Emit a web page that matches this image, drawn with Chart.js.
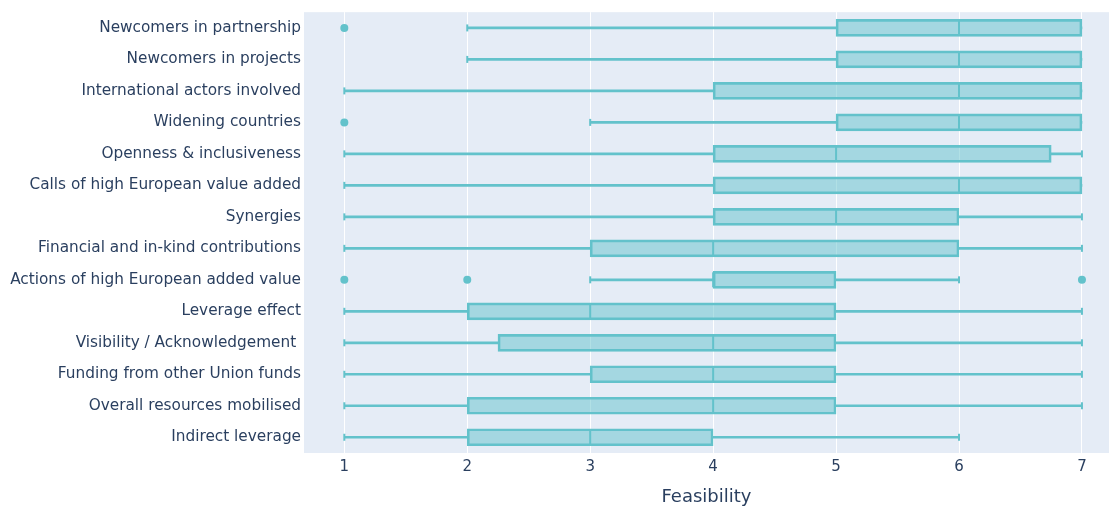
<!DOCTYPE html>
<html>
<head>
<meta charset="utf-8">
<script src="https://cdn.jsdelivr.net/npm/chart.js@4"></script>
<style>
  html, body { margin: 0; padding: 0; background: #fff; }
  #wrap { width: 1109px; height: 508px; }
</style>
</head>
<body>
<div id="wrap"><canvas id="boxChart"></canvas></div>
<script>
// categories, top to bottom
var categories = [
  'Newcomers in partnership',
  'Newcomers in projects',
  'International actors involved',
  'Widening countries',
  'Openness & inclusiveness',
  'Calls of high European value added',
  'Synergies',
  'Financial and in-kind contributions',
  'Actions of high European added value',
  'Leverage effect',
  'Visibility / Acknowledgement ',
  'Funding from other Union funds',
  'Overall resources mobilised',
  'Indirect leverage'
];

// box plot statistics
var lowerFence = [2, 2, 1, 3, 1, 1, 1, 1, 3, 1, 1, 1, 1, 1];
var q1         = [5, 5, 4, 5, 4, 4, 4, 3, 4, 2, 2.25, 3, 2, 2];
var median     = [6, 6, 6, 6, 5, 6, 5, 4, 4, 3, 4, 4, 4, 3];
var q3         = [7, 7, 7, 7, 6.75, 7, 6, 6, 5, 5, 5, 5, 5, 4];
var upperFence = [7, 7, 7, 7, 7, 7, 7, 7, 6, 7, 7, 7, 7, 6];
var outliers   = [[1], [], [], [1], [], [], [], [], [1, 2, 7], [], [], [], [], []];

var xTicks = [1, 2, 3, 4, 5, 6, 7];

var teal = 'rgb(99,194,203)';
var tealFill = 'rgba(99,194,203,0.5)';
var textColor = '#2a3f5f';

var outlierPoints = [];
outliers.forEach(function(list, i) {
  list.forEach(function(v) { outlierPoints.push({ x: v, y: categories[i] }); });
});

// plot background
var bgPlugin = {
  id: 'plotBg',
  beforeDraw: function(chart) {
    var a = chart.chartArea, ctx = chart.ctx;
    ctx.save();
    ctx.fillStyle = '#e5ecf6';
    ctx.fillRect(a.left, a.top, a.right - a.left, a.bottom - a.top);
    ctx.restore();
  }
};

// medians and whisker caps
var boxLines = {
  id: 'boxLines',
  afterDatasetsDraw: function(chart) {
    var xs = chart.scales.x, ys = chart.scales.y, ctx = chart.ctx;
    ctx.save();
    ctx.strokeStyle = teal;
    ctx.lineWidth = 2;
    categories.forEach(function(c, i) {
      var y = ys.getPixelForValue(i);
      var m = xs.getPixelForValue(median[i]);
      ctx.beginPath();
      ctx.moveTo(m, y - 7.5);
      ctx.lineTo(m, y + 7.5);
      ctx.stroke();
      [lowerFence[i], upperFence[i]].forEach(function(v, k) {
        if ((k === 0 && v === q1[i]) || (k === 1 && v === q3[i])) return;
        var p = xs.getPixelForValue(v);
        ctx.beginPath();
        ctx.moveTo(p, y - 3.5);
        ctx.lineTo(p, y + 3.5);
        ctx.stroke();
      });
    });
    ctx.restore();
  }
};

var ctx = document.getElementById('boxChart').getContext('2d');
var chart = new Chart(ctx, {
  type: 'bar',
  data: {
    labels: categories,
    datasets: [
      {
        type: 'bar',
        data: categories.map(function(c, i) { return [lowerFence[i], q1[i]]; }),
        backgroundColor: teal,
        borderWidth: 0,
        barThickness: 2,
        grouped: false,
        order: 3
      },
      {
        type: 'bar',
        data: categories.map(function(c, i) { return [q3[i], upperFence[i]]; }),
        backgroundColor: teal,
        borderWidth: 0,
        barThickness: 2,
        grouped: false,
        order: 3
      },
      {
        type: 'bar',
        data: categories.map(function(c, i) { return [q1[i], q3[i]]; }),
        backgroundColor: tealFill,
        borderColor: teal,
        borderWidth: 2,
        borderSkipped: false,
        barThickness: 17,
        grouped: false,
        order: 2
      },
      {
        type: 'scatter',
        data: outlierPoints,
        backgroundColor: teal,
        borderWidth: 0,
        pointRadius: 4,
        showLine: false,
        clip: false,
        order: 1
      }
    ]
  },
  options: {
    indexAxis: 'y',
    responsive: true,
    maintainAspectRatio: false,
    animation: false,
    events: [],
    layout: { autoPadding: false, padding: { top: 11, right: 0, left: 0, bottom: 0 } },
    plugins: {
      legend: { display: false },
      tooltip: { enabled: false }
    },
    scales: {
      x: {
        type: 'linear',
        min: 0.672,
        max: 7.22,
        afterBuildTicks: function(scale) {
          scale.ticks = xTicks.map(function(v) { return { value: v }; });
        },
        afterFit: function(scale) {
          scale.height = 55;
          scale.paddingRight = 0;
          scale.paddingLeft = 0;
        },
        grid: { color: '#ffffff', lineWidth: 1, drawTicks: false },
        border: { display: false },
        ticks: {
          padding: 5,
          color: textColor,
          font: { family: 'DejaVu Sans', size: 15 }
        },
        title: {
          display: true,
          text: 'Feasibility',
          color: textColor,
          padding: { top: 4, bottom: 0 },
          font: { family: 'DejaVu Sans', size: 18 }
        }
      },
      y: {
        type: 'category',
        afterFit: function(scale) { scale.width = 304; },
        grid: { display: false, drawTicks: false },
        border: { display: false },
        ticks: {
          padding: 3,
          color: textColor,
          font: { family: 'DejaVu Sans', size: 15.3 }
        }
      }
    }
  },
  plugins: [bgPlugin, boxLines]
});
</script>
</body>
</html>
